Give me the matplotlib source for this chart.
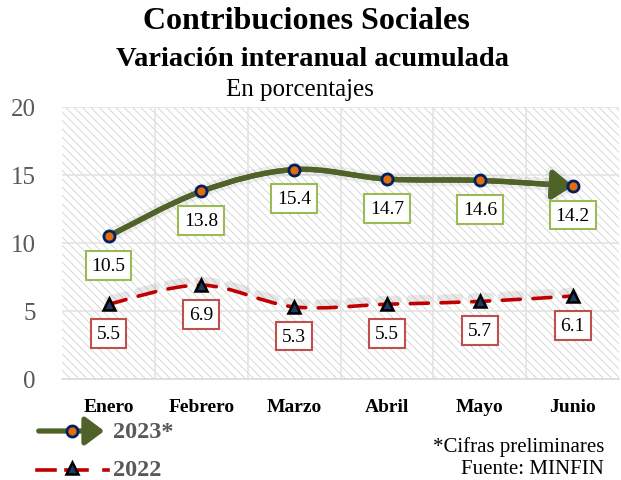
import matplotlib.pyplot as plt
import matplotlib.patheffects as pe
from matplotlib.patches import Rectangle, FancyArrowPatch
from matplotlib.path import Path
from matplotlib.lines import Line2D

plt.rcParams['font.family'] = ['Liberation Serif', 'DejaVu Serif']
plt.rcParams['hatch.linewidth'] = 0.6

meses = ['Enero', 'Febrero', 'Marzo', 'Abril', 'Mayo', 'Junio']
v2023 = [10.5, 13.8, 15.4, 14.7, 14.6, 14.2]
v2022 = [5.5, 6.9, 5.3, 5.5, 5.7, 6.1]

VERDE = '#4f6228'
ROJO = '#c00000'
GRIS = '#595959'


def curva(xs, ys):
    # curva suavizada tipo Excel (Catmull-Rom -> Bezier)
    n = len(xs)
    pts = list(zip(xs, ys))
    verts = [pts[0]]
    codes = [Path.MOVETO]
    for i in range(n - 1):
        p0 = pts[i - 1] if i > 0 else pts[i]
        p1 = pts[i]
        p2 = pts[i + 1]
        p3 = pts[i + 2] if i + 2 < n else pts[i + 1]
        c1 = (p1[0] + (p2[0] - p0[0]) / 6, p1[1] + (p2[1] - p0[1]) / 6)
        c2 = (p2[0] - (p3[0] - p1[0]) / 6, p2[1] - (p3[1] - p1[1]) / 6)
        verts += [c1, c2, p2]
        codes += [Path.CURVE4] * 3
    return Path(verts, codes)


fig = plt.figure(figsize=(6.21, 4.81), dpi=100)
ax = fig.add_axes([0.1, 0.21, 0.897, 0.5655])
x = list(range(len(meses)))

ax.set_xlim(-0.5, 5.5)
ax.set_ylim(0, 20)

# fondo con trama
ax.add_patch(Rectangle((0, 0), 1, 1, transform=ax.transAxes, facecolor='white',
                       edgecolor='#d2d2d2', linewidth=0, hatch='\\\\\\\\', zorder=0))
for yy in [5, 10, 15, 20]:
    ax.axhline(yy, color='#e2e2e2', lw=1.1, zorder=1)
for xx in [0.5, 1.5, 2.5, 3.5, 4.5]:
    ax.axvline(xx, color='#e2e2e2', lw=1.1, zorder=1)

for s in ['top', 'right', 'left']:
    ax.spines[s].set_visible(False)
ax.spines['bottom'].set_color('#d9d9d9')
ax.spines['bottom'].set_linewidth(1.2)

# 2022
ln = ax.add_patch(FancyArrowPatch(path=curva(x, v2022), arrowstyle='-', color=ROJO,
                                  lw=2.6, linestyle=(0, (5, 3.5)), transform=ax.transData,
                                  zorder=3))
ln.set_path_effects([pe.SimpleLineShadow(offset=(0, 3), shadow_color='gray', alpha=0.18,
                                         linewidth=6), pe.Normal()])
ax.plot(x, v2022, linestyle='none', marker='^', markersize=9, markerfacecolor='#1f3864',
        markeredgecolor='black', markeredgewidth=1.8, zorder=5)

# 2023
ar = ax.add_patch(FancyArrowPatch(path=curva(x, v2023), arrowstyle='-|>,head_length=0.55,head_width=0.4',
                                  mutation_scale=22, color=VERDE, lw=3.8,
                                  transform=ax.transData, zorder=3))
ar.set_path_effects([pe.withStroke(linewidth=9, foreground=(0.5, 0.5, 0.5, 0.12)), pe.Normal()])
ax.plot(x, v2023, linestyle='none', marker='o', markersize=8, markerfacecolor='#e36c09',
        markeredgecolor='#002060', markeredgewidth=2, zorder=5)

for xi, v in zip(x, v2023):
    ax.annotate(f'{v:.1f}', (xi, v), xytext=(0, -21), textcoords='offset points',
                ha='center', va='center', fontsize=14, zorder=6,
                bbox=dict(boxstyle='square,pad=0.3', fc='white', ec='#9bbb59', lw=1.5))
for xi, v in zip(x, v2022):
    ax.annotate(f'{v:.1f}', (xi, v), xytext=(0, -21), textcoords='offset points',
                ha='center', va='center', fontsize=14, zorder=6,
                bbox=dict(boxstyle='square,pad=0.3', fc='white', ec='#c0504d', lw=1.5))

ax.set_yticks([0, 5, 10, 15, 20])
ax.set_yticklabels(['0', '5', '10', '15', '20'], fontsize=18, color=GRIS)
ax.set_xticks(x)
ax.set_xticklabels(meses, fontsize=14, fontweight='bold')
ax.tick_params(axis='both', length=0)
ax.tick_params(axis='x', pad=14)
ax.tick_params(axis='y', pad=19)

fig.text(0.493, 0.955, 'Contribuciones Sociales', ha='center', va='center',
         fontsize=23, fontweight='bold')
fig.text(0.503, 0.876, 'Variación interanual acumulada', ha='center', va='center',
         fontsize=20.5, fontweight='bold')
fig.text(0.483, 0.813, 'En porcentajes', ha='center', va='center', fontsize=18)


# leyenda manual
def fx(px):
    return px / 621


def fy(py):
    return 1 - py / 481


fig.add_artist(FancyArrowPatch((fx(36), fy(432)), (fx(107), fy(432)), transform=fig.transFigure,
                               arrowstyle='-|>,head_length=0.6,head_width=0.45', mutation_scale=19,
                               color=VERDE, lw=3.8))
fig.add_artist(Line2D([fx(72)], [fy(432)], marker='o', markersize=8, markerfacecolor='#e36c09',
                      markeredgecolor='#002060', markeredgewidth=2, transform=fig.transFigure))
fig.text(fx(113), fy(433), '2023*', ha='left', va='center', fontsize=17.5,
         fontweight='bold', color=GRIS)

fig.add_artist(Line2D([fx(37), fx(55)], [fy(471), fy(471)], color=ROJO, lw=2.6,
                      transform=fig.transFigure))
fig.add_artist(Line2D([fx(66), fx(87)], [fy(471), fy(471)], color=ROJO, lw=2.6,
                      transform=fig.transFigure))
fig.add_artist(Line2D([fx(104), fx(108)], [fy(471), fy(471)], color=ROJO, lw=2.6,
                      transform=fig.transFigure))
fig.add_artist(Line2D([fx(72)], [fy(469)], marker='^', markersize=9, markerfacecolor='#1f3864',
                      markeredgecolor='black', markeredgewidth=1.8, transform=fig.transFigure))
fig.text(fx(113), fy(471), '2022', ha='left', va='center', fontsize=17.5,
         fontweight='bold', color=GRIS)

fig.text(fx(604), fy(447), '*Cifras preliminares', ha='right', va='center', fontsize=15)
fig.text(fx(604), fy(470), 'Fuente: MINFIN', ha='right', va='center', fontsize=15)

fig.savefig('out.png', dpi=100)
